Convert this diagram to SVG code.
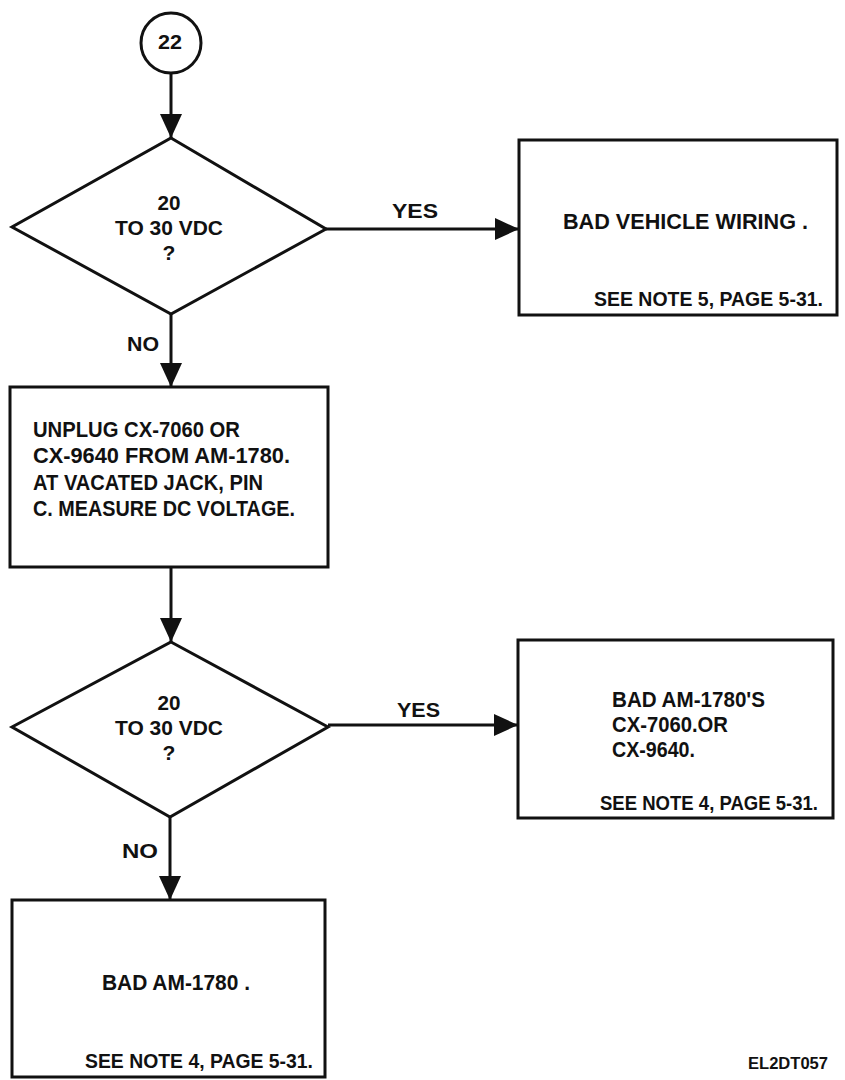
<svg xmlns="http://www.w3.org/2000/svg" width="845" height="1080" viewBox="0 0 845 1080">
<style>
.shape{fill:#fff;stroke:#111;stroke-width:3}
.conn{stroke:#111;stroke-width:3;fill:none}
text{font-family:"Liberation Sans",Arial,sans-serif;font-weight:bold;fill:#111;font-size:22px}
.c{text-anchor:middle}
.d{font-size:21px}
.n{font-size:19.5px}
.sm{font-size:16px}
</style>
<defs>
<marker id="ah" markerUnits="userSpaceOnUse" markerWidth="26" markerHeight="22" refX="24" refY="11" orient="auto">
<path d="M0,0 L24,11 L0,22 Z" fill="#111"/>
</marker>
</defs>
<rect width="845" height="1080" fill="#fff"/>
<g id="connectors">
<line class="conn" x1="171" y1="73" x2="171" y2="138" marker-end="url(#ah)"/>
<line class="conn" x1="326" y1="229" x2="519" y2="229" marker-end="url(#ah)"/>
<line class="conn" x1="171" y1="314" x2="171" y2="387" marker-end="url(#ah)"/>
<line class="conn" x1="171" y1="567" x2="171" y2="642" marker-end="url(#ah)"/>
<line class="conn" x1="328" y1="725" x2="518" y2="725" marker-end="url(#ah)"/>
<line class="conn" x1="170" y1="817" x2="170" y2="900" marker-end="url(#ah)"/>
<text class="d" x="392" y="218" textLength="46" lengthAdjust="spacingAndGlyphs">YES</text>
<text class="d" x="397" y="717" textLength="43" lengthAdjust="spacingAndGlyphs">YES</text>
<text class="d" x="127" y="351" textLength="32" lengthAdjust="spacingAndGlyphs">NO</text>
<text class="d" x="122" y="858" textLength="36" lengthAdjust="spacingAndGlyphs">NO</text>
</g>
<g id="start">
<circle class="shape" cx="171" cy="43" r="30"/>
<text class="c d" x="170" y="49" textLength="24" lengthAdjust="spacingAndGlyphs">22</text>
</g>
<g id="decision1">
<polygon class="shape" points="171,138 326,229 171,314 12,227"/>
<text class="c d" x="169" y="210" textLength="23" lengthAdjust="spacingAndGlyphs">20</text>
<text class="c d" x="169" y="235" textLength="108" lengthAdjust="spacingAndGlyphs">TO 30 VDC</text>
<text class="c d" x="169" y="260">?</text>
</g>
<g id="result1">
<rect class="shape" x="519" y="140" width="318" height="175"/>
<text x="563" y="229" textLength="245" lengthAdjust="spacingAndGlyphs">BAD VEHICLE WIRING .</text>
<text class="n" x="594" y="306" textLength="229" lengthAdjust="spacingAndGlyphs">SEE NOTE 5, PAGE 5-31.</text>
</g>
<g id="action1">
<rect class="shape" x="10" y="387" width="318" height="180"/>
<text x="33" y="437" textLength="207" lengthAdjust="spacingAndGlyphs">UNPLUG CX-7060 OR</text>
<text x="33" y="463" textLength="257" lengthAdjust="spacingAndGlyphs">CX-9640 FROM AM-1780.</text>
<text x="33" y="490" textLength="230" lengthAdjust="spacingAndGlyphs">AT VACATED JACK, PIN</text>
<text x="33" y="516" textLength="262" lengthAdjust="spacingAndGlyphs">C. MEASURE DC VOLTAGE.</text>
</g>
<g id="decision2">
<polygon class="shape" points="171,642 328,727 170,817 12,727"/>
<text class="c d" x="169" y="710" textLength="23" lengthAdjust="spacingAndGlyphs">20</text>
<text class="c d" x="169" y="735" textLength="108" lengthAdjust="spacingAndGlyphs">TO 30 VDC</text>
<text class="c d" x="169" y="760">?</text>
</g>
<g id="result2">
<rect class="shape" x="518" y="640" width="315" height="178"/>
<text x="612" y="707" textLength="153" lengthAdjust="spacingAndGlyphs">BAD AM-1780'S</text>
<text x="612" y="732" textLength="116" lengthAdjust="spacingAndGlyphs">CX-7060.OR</text>
<text x="612" y="757" textLength="83" lengthAdjust="spacingAndGlyphs">CX-9640.</text>
<text class="n" x="600" y="810" textLength="218" lengthAdjust="spacingAndGlyphs">SEE NOTE 4, PAGE 5-31.</text>
</g>
<g id="result3">
<rect class="shape" x="12" y="900" width="313" height="177"/>
<text x="102" y="990" textLength="148" lengthAdjust="spacingAndGlyphs">BAD AM-1780 .</text>
<text class="n" x="85" y="1068" textLength="228" lengthAdjust="spacingAndGlyphs">SEE NOTE 4, PAGE 5-31.</text>
</g>
<text class="sm" x="748" y="1069" textLength="80" lengthAdjust="spacingAndGlyphs">EL2DT057</text>
</svg>
